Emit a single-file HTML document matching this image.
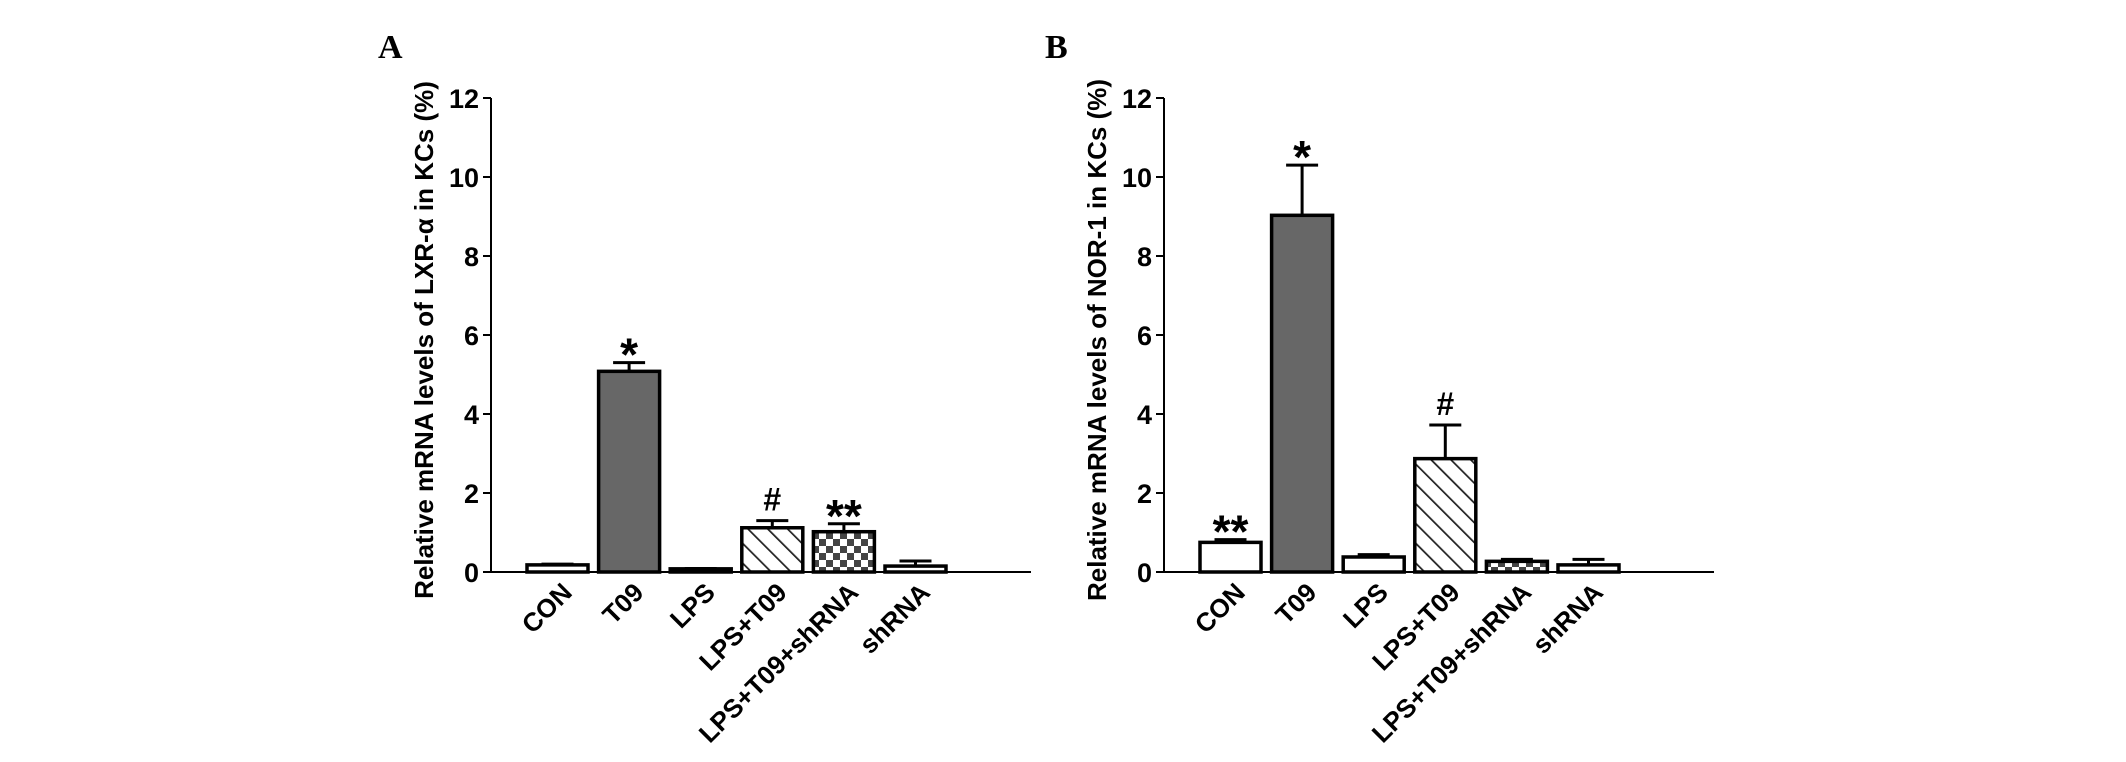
<!DOCTYPE html>
<html><head><meta charset="utf-8"><style>
html,body{margin:0;padding:0;background:#fff;}
svg{display:block;font-family:"Liberation Sans",Arial,sans-serif;}
</style></head><body>
<svg id="chart" width="2126" height="762" viewBox="0 0 2126 762">
<defs>
<pattern id="hatch" patternUnits="userSpaceOnUse" width="14" height="14" patternTransform="rotate(-45)">
<rect width="14" height="14" fill="#fff"/><line x1="0" y1="0" x2="0" y2="14" stroke="#222" stroke-width="3.5"/>
</pattern>
<pattern id="check" patternUnits="userSpaceOnUse" width="14" height="14">
<rect width="14" height="14" fill="#fff"/><rect width="7" height="7" fill="#444"/><rect x="7" y="7" width="7" height="7" fill="#444"/>
</pattern>
</defs>
</svg>
<script>
const categories = ["CON","T09","LPS","LPS+T09","LPS+T09+shRNA","shRNA"];
const valuesA = [0.18, 5.08, 0.08, 1.12, 1.02, 0.15];
const errorsA = [0.02, 0.22, 0.01, 0.18, 0.2, 0.13];
const marksA = ["", "*", "", "#", "**", ""];
const valuesB = [0.75, 9.03, 0.38, 2.87, 0.27, 0.18];
const errorsB = [0.07, 1.27, 0.06, 0.85, 0.05, 0.14];
const marksB = ["**", "*", "", "#", "", ""];
const fills = ["#fff","#676767","#fff","url(#hatch)","url(#check)","#fff"];
const yTicks = [0,2,4,6,8,10,12];
const svg = document.getElementById('chart');
const NS = 'http://www.w3.org/2000/svg';
function mk(tag, attrs, parent){const e=document.createElementNS(NS,tag);for(const k in attrs)e.setAttribute(k,attrs[k]);(parent||svg).appendChild(e);return e;}

function panel(cfg){
  const g = mk('g',{});
  
  
  const y0=572, y1=98, yMax=12;
  const yScale = v => y0 - (v/yMax)*(y0-y1);
  const xBar = i => cfg.firstBar + i*71.6;
  const bw = 61;
  const L = mk('text',{x:cfg.letterX,y:58,'font-family':'"Liberation Serif",serif','font-weight':'bold','font-size':34},g);
  L.textContent = cfg.letter;
  
  
  const ya = mk('line',{x1:cfg.axisX,y1:y1,x2:cfg.axisX,y2:y0,stroke:'#000','stroke-width':2},g);
  
  
  const xa = mk('line',{x1:cfg.axisX,y1:y0,x2:cfg.axisEnd,y2:y0,stroke:'#000','stroke-width':2},g);
  
  
  yTicks.forEach(t=>{
    const y=yScale(t);
    mk('line',{x1:cfg.axisX-8,y1:y,x2:cfg.axisX,y2:y,stroke:'#000','stroke-width':2},g);
    const tx = mk('text',{x:cfg.axisX-12,y:y+10,'text-anchor':'end','font-weight':'bold','font-size':27},g);
    tx.textContent = t;
    
    
  });
  const yl = mk('text',{x:0,y:0,'text-anchor':'middle','font-weight':'bold','font-size':26,transform:`translate(${cfg.titleX},340) rotate(-90)`},g);
  yl.textContent = cfg.title;
  
  
  cfg.values.forEach((v,i)=>{
    const x=xBar(i), cx=x+bw/2, top=yScale(v), et=yScale(v+cfg.errors[i]);
    const eb = mk('line',{x1:cx,y1:top,x2:cx,y2:et,stroke:'#000','stroke-width':3},g);
    
    
    mk('line',{x1:cx-16,y1:et,x2:cx+16,y2:et,stroke:'#000','stroke-width':3},g);
    const r = mk('rect',{x:x,y:top,width:bw,height:Math.max(y0-top,1),fill:fills[i],stroke:'#000','stroke-width':3.5},g);
    
    
    if(cfg.marks[i]){
      const isHash = cfg.marks[i]==='#';
      const m = mk('text',{x:cx,y:et-(isHash?10:-8),'text-anchor':'middle','font-weight':'bold','font-size':isHash?32:46},g);
      m.textContent = cfg.marks[i];
      
      
    }
    const c = mk('text',{x:0,y:0,'text-anchor':'end','font-weight':'bold','font-size':26,transform:`translate(${cx+16},${y0+22}) rotate(-45)`},g);
    c.textContent = categories[i];
    
    
  });
}
panel({name:'panel-a',letter:'A',letterX:378,axisX:491,axisEnd:1031,firstBar:527,titleX:433,
  title:'Relative mRNA levels of LXR-\u03b1  in KCs (%)',values:valuesA,errors:errorsA,marks:marksA});
panel({name:'panel-b',letter:'B',letterX:1045,axisX:1164,axisEnd:1714,firstBar:1200,titleX:1106,
  title:'Relative mRNA levels of NOR-1 in KCs (%)',values:valuesB,errors:errorsB,marks:marksB});
</script>
</body></html>
